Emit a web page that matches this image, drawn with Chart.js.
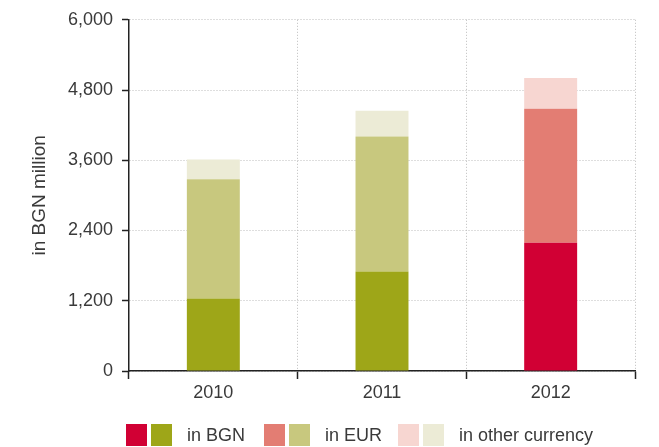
<!DOCTYPE html>
<html>
<head>
<meta charset="utf-8">
<script src="https://cdn.jsdelivr.net/npm/chart.js@4/dist/chart.umd.min.js"></script>
<style>
  html, body { margin: 0; padding: 0; background: #fff; }
  #wrap { position: relative; width: 659px; height: 447px; overflow: hidden; }
  #chart { position: absolute; left: 0; top: 0; }
  .legend-item { position: absolute; top: 424px; height: 22px; display: flex; align-items: center;
    font: 18px "Liberation Sans", Arial, sans-serif; color: #3a3a3a; white-space: nowrap; }
  .sw { width: 21px; height: 22px; margin-right: 4px; }
  .legend-item .label { margin-left: 11px; }
</style>
</head>
<body>
<div id="wrap">
  <canvas id="chart" width="659" height="447"></canvas>
  <div id="legend"></div>
</div>
<script>
"use strict";

const years = ["2010", "2011", "2012"];
const seriesNames = ["in BGN", "in EUR", "in other currency"];
const inBGN = [1240, 1700, 2190];
const inEUR = [2035, 2305, 2290];
const inOther = [340, 440, 525];
const yTicks = [0, 1200, 2400, 3600, 4800, 6000];

// 2012 is drawn in the red palette, earlier years in green
const redYears = ["2012"];
const redShades = ["#D10034", "#E37D73", "#F7D6D1"];
const greenShades = ["#9EA618", "#C8C87E", "#ECEBD6"];

const seriesValues = [inBGN, inEUR, inOther];

Chart.defaults.font.family = '"Liberation Sans", Arial, sans-serif';
Chart.defaults.font.size = 18;
Chart.defaults.color = "#3a3a3a";

const datasets = seriesNames.map((name, i) => ({
  label: name,
  data: seriesValues[i],
  backgroundColor: years.map(y => redYears.includes(y) ? redShades[i] : greenShades[i]),
  borderWidth: 0,
  categoryPercentage: 1,
  barPercentage: 0.314,
}));

const axisColor = "#222";
const gridColor = "#bdbdbd";

new Chart(document.getElementById("chart"), {
  type: "bar",
  data: { labels: years, datasets: datasets },
  options: {
    responsive: false,
    animation: false,
    layout: { padding: { top: 17, right: 24, bottom: 46, left: 0 } },
    plugins: {
      legend: { display: false },
      tooltip: { enabled: false },
    },
    scales: {
      x: {
        stacked: true,
        afterFit: (scale) => { scale.height = 30; },
        grid: {
          offset: true,
          color: gridColor,
          lineWidth: 1,
          tickLength: 8,
          tickColor: axisColor,
          tickWidth: 1.5,
        },
        border: { color: axisColor, width: 1.5, dash: [1, 2] },
        ticks: { padding: 3 },
      },
      y: {
        stacked: true,
        min: yTicks[0],
        max: yTicks[yTicks.length - 1],
        afterFit: (scale) => { scale.width = 129; },
        afterBuildTicks: (scale) => { scale.ticks = yTicks.map(v => ({ value: v })); },
        grid: {
          color: gridColor,
          lineWidth: 1,
          tickLength: 7,
          tickColor: axisColor,
          tickWidth: 1.5,
        },
        border: { color: axisColor, width: 1.5, dash: [1, 2] },
        ticks: {
          padding: 9,
          callback: (v) => v.toLocaleString("en-US"),
        },
        title: {
          display: true,
          text: "in BGN million",
          font: { size: 19 },
          padding: { top: 28, bottom: 0 },
        },
      },
    },
  },
});

// legend: a red and a green swatch for each series
const legend = document.getElementById("legend");
const legendLefts = [126, 264, 398];
seriesNames.forEach((name, i) => {
  const item = document.createElement("div");
  item.className = "legend-item";
  item.style.left = legendLefts[i] + "px";
  [redShades[i], greenShades[i]].forEach(c => {
    const sw = document.createElement("div");
    sw.className = "sw";
    sw.style.background = c;
    item.appendChild(sw);
  });
  const label = document.createElement("span");
  label.className = "label";
  label.textContent = name;
  item.appendChild(label);
  legend.appendChild(item);
});
</script>
</body>
</html>
